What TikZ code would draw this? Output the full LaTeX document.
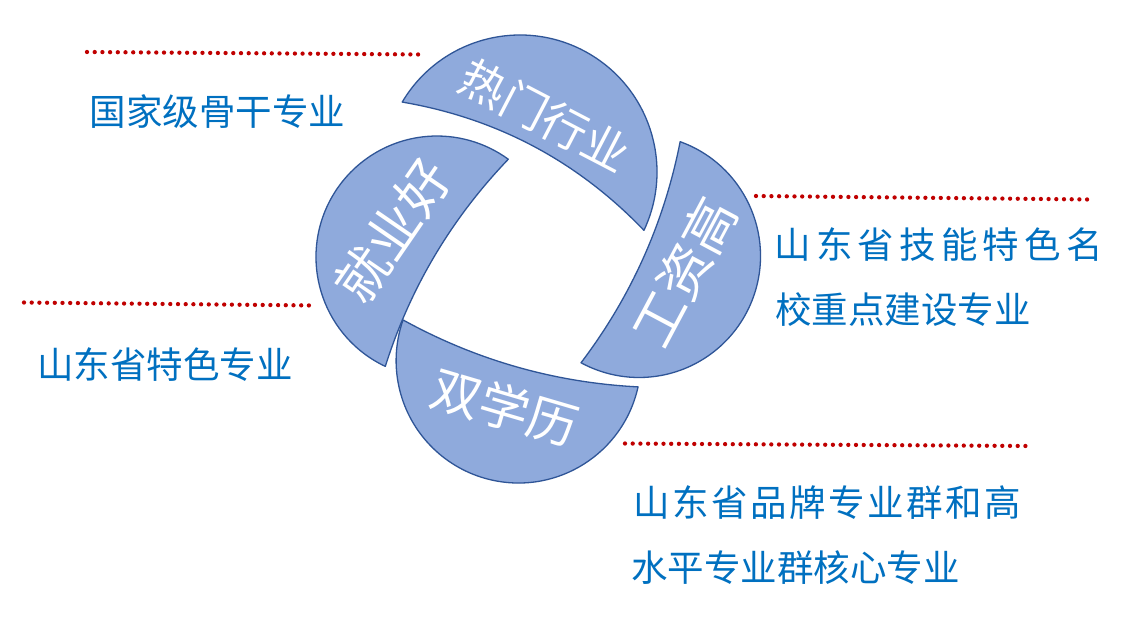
\documentclass[tikz,border=0pt]{standalone}
\usepackage{fontspec}
\newfontfamily\cjk{Noto Sans CJK SC}
\usetikzlibrary{calc}
\definecolor{petalfill}{HTML}{8FAADC}
\definecolor{petaldraw}{HTML}{2F5597}
\definecolor{labelblue}{HTML}{0070C0}
\definecolor{dotred}{HTML}{C00000}
\tikzset{
  petal/.style={fill=petalfill, draw=petaldraw, line width=1.3pt, line join=round},
  dotline/.style={dotred, line width=4.3pt, line cap=round, dash pattern=on 0pt off 7.7pt},
  lbl/.style={font=\cjk\fontsize{36.5}{40}\selectfont, text=labelblue, inner sep=0pt, anchor=west},
  ptext/.style={text=white, inner sep=0pt}
}
\begin{document}
\begin{tikzpicture}[x=1pt, y=-1pt]
\useasboundingbox (0,0) rectangle (1138,619);
\fill[white] (0,0) rectangle (1138,619);

% top petal
\coordinate (tA) at ($(520,172)+(-149.3:137)$);
\path[petal] (tA) arc[start angle=-149.3, end angle=25.2, radius=137]
  .. controls (577.4,161.0) and (496.9,118.3) .. (tA) -- cycle;
% right petal
\coordinate (rA) at ($(639,256)+(-70.2:121.5)$);
\path[petal] (rA) arc[start angle=-70.2, end angle=118.5, radius=121.5]
  .. controls (631.1,296.7) and (664.1,223.0) .. (rA) -- cycle;
% bottom petal
\coordinate (bA) at ($(518.5,360.6)+(12.4:122.4)$);
\path[petal] (bA) arc[start angle=12.4, end angle=199.4, radius=122.4]
  .. controls (476.2,360.2) and (554.6,382.6) .. (bA) -- cycle;
% left petal
\coordinate (lA) at ($(437,257)+(115.3:121)$);
\path[petal] (lA) arc[start angle=115.3, end angle=306.1, radius=121]
  .. controls (451.2,218.8) and (410.2,287.8) .. (lA) -- cycle;

% petal texts
\node[ptext, rotate=-27.5, font=\cjk\fontsize{46}{50}\selectfont] (ttop) at (545,116) {热门行业};
\node[ptext, rotate=62, font=\cjk\fontsize{53}{57}\selectfont] (tright) at (684,272) {工资高};
\node[ptext, rotate=-16.4, font=\cjk\fontsize{50}{54}\selectfont] (tbottom) at (505,407.5) {双学历};
\node[ptext, rotate=55.5, font=\cjk\fontsize{53}{57}\selectfont] (tleft) at (392.5,231) {就业好};

% dotted lines
\coordinate (d1a) at (87,52); \coordinate (d1b) at (423,54.5);
\coordinate (d2a) at (756,196); \coordinate (d2b) at (1092,199.5);
\coordinate (d3a) at (24,302.5); \coordinate (d3b) at (316,305.5);
\coordinate (d4a) at (625,443.5); \coordinate (d4b) at (1030,446);
\draw[dotline] (d1a) -- (d1b);
\draw[dotline] (d2a) -- (d2b);
\draw[dotline] (d3a) -- (d3b);
\draw[dotline] (d4a) -- (d4b);

% labels
\node[lbl] (l1) at (89.5,111.5) {国家级骨干专业};
\node[lbl] (l2) at (37,365) {山东省特色专业};
\node[lbl] (l3) at (774.5,245) {\makebox[328pt][s]{山\hfill 东\hfill 省\hfill 技\hfill 能\hfill 特\hfill 色\hfill 名}};
\node[lbl] (l4) at (775,310) {校重点建设专业};
\node[lbl] (l5) at (633,502.5) {\makebox[388pt][s]{山\hfill 东\hfill 省\hfill 品\hfill 牌\hfill 专\hfill 业\hfill 群\hfill 和\hfill 高}};
\node[lbl] (l6) at (631,568) {水平专业群核心专业};
\end{tikzpicture}
\end{document}
